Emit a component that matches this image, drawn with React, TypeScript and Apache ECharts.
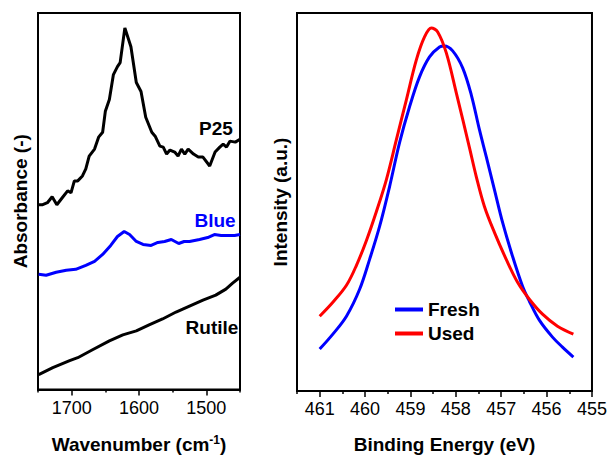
import React, { useEffect, useRef } from "react";
import * as echarts from "echarts";

// ---- Left panel (IR) ----
const p25Wavenumber = [1749, 1743, 1736, 1729, 1722, 1714, 1706, 1701, 1696, 1691, 1684, 1679, 1674, 1666, 1660, 1654, 1650, 1644, 1638, 1632, 1628, 1621, 1612, 1604, 1597, 1590, 1581, 1576, 1569, 1564, 1559, 1554, 1547, 1542, 1537, 1532, 1527, 1519, 1512, 1505, 1495, 1487, 1480, 1475, 1470, 1465, 1457, 1450];
const p25Absorbance = [186, 186, 188, 194, 186, 193, 200, 198, 210, 210, 215, 222, 235, 242, 254, 259, 280, 292, 317, 325, 329, 364, 345, 309, 300, 274, 259, 255, 245, 244, 237, 241, 239, 235, 242, 237, 242, 237, 234, 234, 225, 239, 244, 247, 244, 250, 249, 252];

const blueWavenumber = [1749, 1738, 1723, 1708, 1694, 1679, 1666, 1654, 1642, 1632, 1622, 1614, 1604, 1594, 1582, 1572, 1562, 1552, 1541, 1533, 1525, 1510, 1498, 1488, 1478, 1468, 1458, 1450];
const blueAbsorbance = [116, 115, 118, 120, 121, 125, 129, 136, 145, 154, 159, 156, 149, 146, 145, 148, 149, 151, 147, 149, 149, 151, 153, 156, 155, 155, 155, 156];

const rutileWavenumber = [1749, 1728, 1703, 1691, 1669, 1644, 1624, 1604, 1585, 1565, 1545, 1525, 1505, 1486, 1471, 1461, 1450];
const rutileAbsorbance = [15, 22, 29, 32, 40, 49, 55, 59, 65, 71, 78, 84, 90, 95, 101, 107, 113];

const irMajorTicks = [1500, 1600, 1700];
const irMinorTicks = [1450, 1550, 1650, 1750];

// ---- Right panel (XPS) ----
const freshEnergy = [461.0, 460.71, 460.41, 460.12, 459.9, 459.68, 459.46, 459.24, 459.02, 458.8, 458.58, 458.36, 458.25, 458.07, 457.85, 457.66, 457.48, 457.33, 457.15, 456.97, 456.75, 456.53, 456.38, 456.16, 455.87, 455.65, 455.41];
const freshIntensity = [42, 57, 75, 102, 132, 165, 205, 249, 285, 315, 335, 345, 346, 341, 324, 297, 262, 235, 202, 169, 135, 105, 90, 71, 54, 44, 34];

const usedEnergy = [461.0, 460.71, 460.41, 460.19, 459.97, 459.75, 459.53, 459.31, 459.09, 458.87, 458.69, 458.54, 458.4, 458.21, 457.99, 457.7, 457.55, 457.37, 457.15, 456.89, 456.64, 456.38, 456.09, 455.76, 455.41];
const usedIntensity = [75, 89, 106, 126, 151, 180, 212, 252, 292, 332, 355, 364, 360, 339, 299, 244, 215, 185, 159, 132, 109, 92, 77, 65, 57];

const xpsMajorTicks = [455, 456, 457, 458, 459, 460, 461];
const xpsMinorTicks = [455.5, 456.5, 457.5, 458.5, 459.5, 460.5, 461.5];

const FONT = "'Liberation Sans', Arial, sans-serif";

const zip = (xs: number[], ys: number[]) => xs.map((x, i) => [x, ys[i]]);

export default function App() {
  const ref = useRef<HTMLDivElement>(null);
  useEffect(() => {
    if (!ref.current) return;
    const chart = echarts.init(ref.current, undefined, { renderer: "svg" });
    const axisLabel = { color: "#000", fontSize: 18, fontFamily: FONT, margin: 9, formatter: (v: number) => String(v) };
    const nameStyle = { color: "#000", fontSize: 19, fontWeight: "bold" as const, fontFamily: FONT };
    const gridBase = { show: true, borderColor: "#000", borderWidth: 2, backgroundColor: "transparent" };
    chart.setOption({
      animation: false,
      backgroundColor: "#fff",
      grid: [
        { ...gridBase, left: 38, top: 13, width: 202, height: 379 },
        { ...gridBase, left: 297, top: 13, width: 296, height: 379 },
      ],
      legend: {
        show: true,
        orient: "vertical",
        left: 390,
        top: 295,
        icon: "rect",
        itemWidth: 28,
        itemHeight: 4,
        itemGap: 5,
        textStyle: { color: "#000", fontSize: 19, fontWeight: "bold", fontFamily: FONT },
        data: ["Fresh", "Used"],
      },
      xAxis: [
        {
          type: "value", gridIndex: 0, min: 1450, max: 1750, inverse: true, position: "bottom",
          name: "{a|Wavenumber (cm}{s|-1}{a|)}", nameLocation: "middle", nameGap: 44,
          nameTextStyle: {
            rich: {
              a: { ...nameStyle },
              s: { ...nameStyle, fontSize: 12, verticalAlign: "top", padding: [0, 0, 10, 0] },
            },
          },
          axisLine: { show: true, lineStyle: { color: "#000", width: 2 } },
          axisTick: { show: true, customValues: irMajorTicks, length: 6, lineStyle: { color: "#000", width: 1.5 } },
          axisLabel: { ...axisLabel, customValues: irMajorTicks },
          splitLine: { show: false },
        },
        {
          type: "value", gridIndex: 0, min: 1450, max: 1750, inverse: true, position: "bottom",
          axisLine: { show: false },
          axisTick: { show: true, customValues: irMinorTicks, length: 3, lineStyle: { color: "#000", width: 1.5 } },
          axisLabel: { show: false },
          splitLine: { show: false },
        },
        {
          type: "value", gridIndex: 1, min: 455, max: 461.5, inverse: true, position: "bottom",
          name: "Binding Energy (eV)", nameLocation: "middle", nameGap: 44,
          nameTextStyle: nameStyle,
          axisLine: { show: true, lineStyle: { color: "#000", width: 2 } },
          axisTick: { show: true, customValues: xpsMajorTicks, length: 6, lineStyle: { color: "#000", width: 1.5 } },
          axisLabel: { ...axisLabel, customValues: xpsMajorTicks },
          splitLine: { show: false },
        },
        {
          type: "value", gridIndex: 1, min: 455, max: 461.5, inverse: true, position: "bottom",
          axisLine: { show: false },
          axisTick: { show: true, customValues: xpsMinorTicks, length: 3, lineStyle: { color: "#000", width: 1.5 } },
          axisLabel: { show: false },
          splitLine: { show: false },
        },
      ],
      yAxis: [
        {
          type: "value", gridIndex: 0, min: 0, max: 379,
          name: "Absorbance (-)", nameLocation: "middle", nameGap: 8, nameTextStyle: nameStyle,
          axisLine: { show: true, lineStyle: { color: "#000", width: 2 } },
          axisTick: { show: false }, axisLabel: { show: false }, splitLine: { show: false },
        },
        {
          type: "value", gridIndex: 1, min: 0, max: 379,
          name: "Intensity (a.u.)", nameLocation: "middle", nameGap: 7, nameTextStyle: nameStyle,
          axisLine: { show: true, lineStyle: { color: "#000", width: 2 } },
          axisTick: { show: false }, axisLabel: { show: false }, splitLine: { show: false },
        },
      ],
      series: [
        {
          name: "P25", type: "line", xAxisIndex: 0, yAxisIndex: 0, showSymbol: false,
          data: zip(p25Wavenumber, p25Absorbance), lineStyle: { color: "#000", width: 3 }, itemStyle: { color: "#000" },
        },
        {
          name: "Blue", type: "line", xAxisIndex: 0, yAxisIndex: 0, showSymbol: false,
          data: zip(blueWavenumber, blueAbsorbance), lineStyle: { color: "#0000ff", width: 3 }, itemStyle: { color: "#0000ff" },
        },
        {
          name: "Rutile", type: "line", xAxisIndex: 0, yAxisIndex: 0, showSymbol: false,
          data: zip(rutileWavenumber, rutileAbsorbance), lineStyle: { color: "#000", width: 3 }, itemStyle: { color: "#000" },
        },
        {
          name: "Fresh", type: "line", xAxisIndex: 2, yAxisIndex: 1, showSymbol: false, smooth: 0.35,
          data: zip(freshEnergy, freshIntensity), lineStyle: { color: "#0000ff", width: 3 }, itemStyle: { color: "#0000ff" },
        },
        {
          name: "Used", type: "line", xAxisIndex: 2, yAxisIndex: 1, showSymbol: false, smooth: 0.35,
          data: zip(usedEnergy, usedIntensity), lineStyle: { color: "#ff0000", width: 3 }, itemStyle: { color: "#ff0000" },
        },
      ],
      graphic: [
        { type: "text", x: 216, y: 128, style: { text: "P25", fill: "#000", font: `bold 19px ${FONT}`, align: "center", verticalAlign: "middle" } },
        { type: "text", x: 215, y: 220, style: { text: "Blue", fill: "#0000ff", font: `bold 19px ${FONT}`, align: "center", verticalAlign: "middle" } },
        { type: "text", x: 212, y: 327, style: { text: "Rutile", fill: "#000", font: `bold 19px ${FONT}`, align: "center", verticalAlign: "middle" } },
      ],
    });
    return () => chart.dispose();
  }, []);
  return <div ref={ref} style={{ position: "fixed", left: 0, top: 0, width: 610, height: 459 }} />;
}
